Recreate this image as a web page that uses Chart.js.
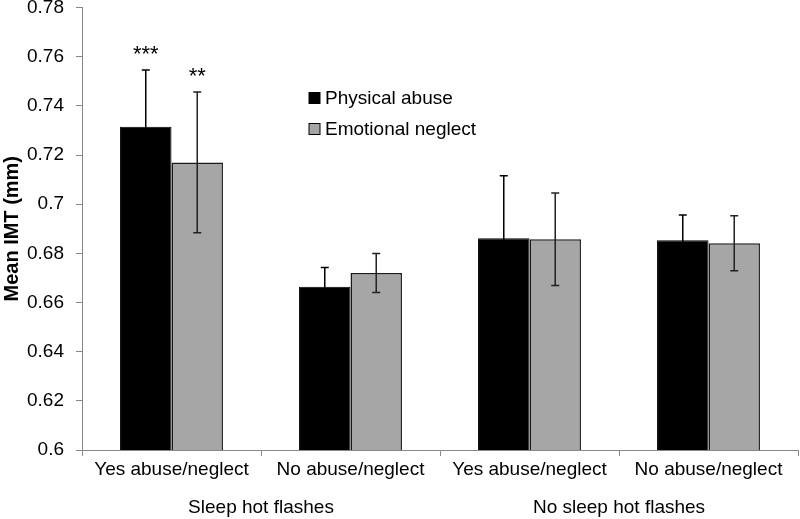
<!DOCTYPE html>
<html>
<head>
<meta charset="utf-8">
<script src="https://cdn.jsdelivr.net/npm/chart.js@4/dist/chart.umd.min.js"></script>
<style>
  html, body { margin: 0; padding: 0; background: #fff; }
  #wrap { width: 800px; height: 519px; }
</style>
</head>
<body>
<div id="wrap"><canvas id="myChart"></canvas></div>
<script>
// data
const categories = ['Yes abuse/neglect', 'No abuse/neglect', 'Yes abuse/neglect', 'No abuse/neglect'];
const groups = ['Sleep hot flashes', 'No sleep hot flashes'];
const physical = [0.7315, 0.6664, 0.6861, 0.6853];
const physicalErr = [0.0231, 0.0078, 0.0255, 0.0103];
const emotional = [0.717, 0.672, 0.6857, 0.6841];
const emotionalErr = [0.0286, 0.0079, 0.0188, 0.0112];
const physicalSig = ['***', '', '', ''];
const emotionalSig = ['**', '', '', ''];
const seriesNames = ['Physical abuse', 'Emotional neglect'];

const FONT = 'Liberation Sans, Arial, sans-serif';

// error bars, stars, group labels, legend
const extras = {
    id: 'extras',
    afterDatasetsDraw(chart) {
        const ctx = chart.ctx;
        const y = chart.scales.y;
        const x = chart.scales.x;
        const errs = [physicalErr, emotionalErr];
        const sigs = [physicalSig, emotionalSig];
        const errColors = ['#000', '#222'];
        ctx.save();
        chart.data.datasets.forEach((ds, di) => {
            const meta = chart.getDatasetMeta(di);
            meta.data.forEach((bar, i) => {
                const v = ds.data[i];
                const e = errs[di][i];
                const top = y.getPixelForValue(v + e);
                const bot = y.getPixelForValue(v - e);
                ctx.strokeStyle = errColors[di];
                ctx.lineWidth = 1.5;
                ctx.beginPath();
                ctx.moveTo(bar.x, top); ctx.lineTo(bar.x, bot);
                ctx.moveTo(bar.x - 4, top); ctx.lineTo(bar.x + 4, top);
                ctx.moveTo(bar.x - 4, bot); ctx.lineTo(bar.x + 4, bot);
                ctx.stroke();
                if (sigs[di][i]) {
                    ctx.fillStyle = '#000';
                    ctx.font = '22px ' + FONT;
                    ctx.textAlign = 'center';
                    ctx.textBaseline = 'middle';
                    ctx.fillText(sigs[di][i], bar.x, top - 15);
                }
            });
        });
        // group labels
        ctx.fillStyle = '#000';
        ctx.font = '19px ' + FONT;
        ctx.textAlign = 'center';
        ctx.textBaseline = 'middle';
        groups.forEach((g, gi) => {
            const cx = (x.getPixelForValue(gi * 2) + x.getPixelForValue(gi * 2 + 1)) / 2;
            ctx.fillText(g, cx, 508);
        });
        // legend
        const colors = ['#000000', '#a6a6a6'];
        ctx.font = '19px ' + FONT;
        ctx.textAlign = 'left';
        seriesNames.forEach((n, i) => {
            const ly = 98 + i * 31;
            ctx.fillStyle = colors[i];
            ctx.fillRect(309, ly - 5.5, 11, 11);
            ctx.strokeStyle = '#000';
            ctx.lineWidth = 1;
            ctx.strokeRect(309, ly - 5.5, 11, 11);
            ctx.fillStyle = '#000';
            ctx.fillText(n, 325, ly + 1);
        });
        ctx.restore();
    }
};

const config = {
    type: 'bar',
    data: {
        labels: categories,
        datasets: [{
            label: seriesNames[0],
            data: physical,
            backgroundColor: '#000000',
            borderColor: '#000000',
            borderWidth: 1
        }, {
            label: seriesNames[1],
            data: emotional,
            backgroundColor: '#a6a6a6',
            borderColor: '#1a1a1a',
            borderWidth: 1.5
        }]
    },
    options: {
        responsive: true,
        maintainAspectRatio: false,
        animation: false,
        layout: { padding: { top: 0, right: 2, left: 0, bottom: 0 } },
        categoryPercentage: 0.575,
        barPercentage: 1,
        plugins: {
            legend: { display: false },
            tooltip: { enabled: false }
        },
        scales: {
            x: {
                afterFit(scale) { scale.height = 69; },
                grid: { display: true, drawOnChartArea: false, offset: true, tickLength: 6, color: '#888' },
                border: { color: '#888', width: 1 },
                ticks: { color: '#000', font: { family: FONT, size: 19 }, padding: 2, maxRotation: 0, autoSkip: false }
            },
            y: {
                min: 0.6,
                max: 0.78,
                afterFit(scale) {
                    scale.width = 82;
                    scale.paddingTop = 7.5;
                    scale.paddingBottom = 0;
                },
                grid: { display: true, drawOnChartArea: false, tickLength: 6, color: '#888' },
                border: { color: '#888', width: 1 },
                ticks: {
                    stepSize: 0.02,
                    color: '#000',
                    font: { family: FONT, size: 19 },
                    padding: 12,
                    callback: (v) => String(Number(v.toFixed(2)))
                },
                title: { display: true, text: 'Mean IMT (mm)', color: '#000', font: { family: FONT, size: 20, weight: 'bold' }, padding: 0 }
            }
        }
    },
    plugins: [extras]
};

const myChart = new Chart(document.getElementById('myChart'), config);
</script>
</body>
</html>
